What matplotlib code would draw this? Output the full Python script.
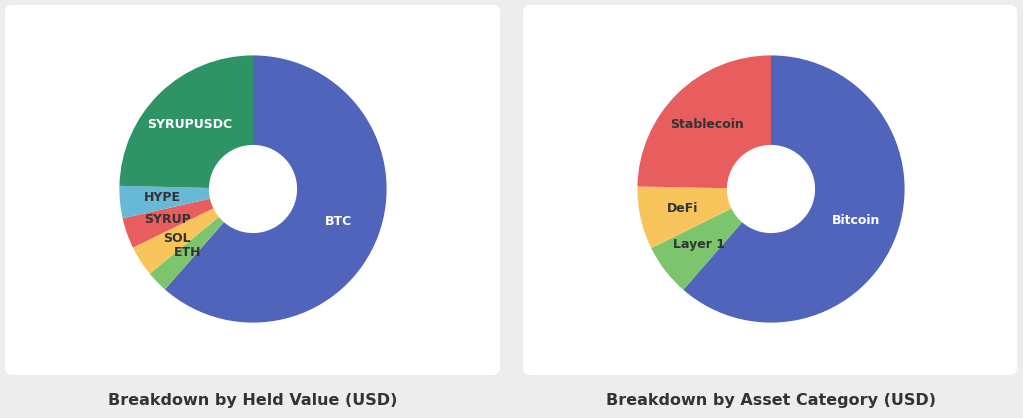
import matplotlib.pyplot as plt
from matplotlib.patches import FancyBboxPatch

# held value breakdown (percent of total)
held_labels = ["BTC", "ETH", "SOL", "SYRUP", "HYPE", "SYRUPUSDC"]
held_values = [61.4, 2.6, 3.7, 3.7, 3.9, 24.6]
held_colors = ["#5064BC", "#7CC56C", "#F8C45C", "#E85D5D", "#68B8D8", "#2E9466"]
held_text = ["white", "#333333", "#333333", "#333333", "#333333", "white"]

cat_labels = ["Bitcoin", "Layer 1", "DeFi", "Stablecoin"]
cat_values = [61.4, 6.3, 7.6, 24.7]
cat_colors = ["#5064BC", "#7CC56C", "#F8C45C", "#E85D5D"]
cat_text = ["white", "#333333", "#333333", "#333333"]

fig = plt.figure(figsize=(10.23, 4.18), dpi=100)
fig.patch.set_facecolor("#EDEDED")

W, H = 1023, 418

# background axes holding the white cards, drawn below the pies
bg = fig.add_axes([0, 0, 1, 1], zorder=-5)
bg.set_xlim(0, W)
bg.set_ylim(H, 0)
bg.axis("off")
for x0, x1 in [(5, 500), (523, 1017)]:
    bg.add_patch(FancyBboxPatch((x0, 5), x1 - x0, 370,
                                boxstyle="round,pad=0,rounding_size=7",
                                facecolor="white", edgecolor="none"))


def donut(left, values, colors, labels, textcols, title, title_x):
    ax = fig.add_axes([left / W, (H - 356) / H, 334 / W, 334 / H])
    ax.patch.set_alpha(0)
    wedges, texts = ax.pie(values, colors=colors, labels=labels, startangle=90,
                           counterclock=False, labeldistance=0.68,
                           wedgeprops=dict(width=0.67, edgecolor="none"),
                           textprops=dict(fontsize=9, fontweight="bold",
                                          ha="center", va="center"))
    for t, c in zip(texts, textcols):
        t.set_color(c)
        t.set_ha("center")
    ax.set_aspect("equal")
    fig.text(title_x / W, (H - 400) / H, title, ha="center", va="center",
             fontsize=11.5, fontweight="bold", color="#333333")


donut(86, held_values, held_colors, held_labels, held_text,
      "Breakdown by Held Value (USD)", 253)
donut(604, cat_values, cat_colors, cat_labels, cat_text,
      "Breakdown by Asset Category (USD)", 771)

fig.savefig("out.png", dpi=100, facecolor=fig.get_facecolor())
